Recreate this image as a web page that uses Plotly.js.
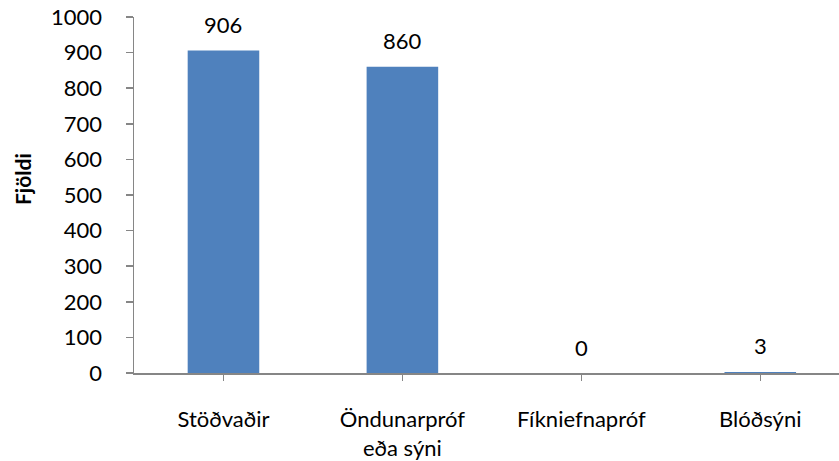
<!DOCTYPE html>
<html><head><meta charset="utf-8">
<script src="https://cdn.plot.ly/plotly-3.0.1.min.js"></script>
<style>html,body{margin:0;padding:0;overflow:hidden;background:#fff}</style>
</head><body><div id="chart" style="width:839px;height:461px"></div>
<script>
var categories = ["Stöðvaðir", "Öndunarpróf<br>eða sýni", "Fíkniefnapróf", "Blóðsýni"];
var values = [906, 860, 0, 3];
var yTicks = [0,100,200,300,400,500,600,700,800,900,1000];
var yTitle = "Fjöldi";

var font = "Lato, 'Open Sans', sans-serif";
var axisColor = "#868686";

var annotations = categories.map(function(c, i){
  return {x: i, y: values[i], xref: 'x', yref: 'y', text: String(values[i]),
    showarrow: false, yanchor: 'middle', yshift: 26,
    font: {family: font, size: 22, color: '#000'}};
});
annotations.push({
  xref: 'paper', yref: 'paper', x: (22 - 134) / 705, y: (373 - 179) / 356,
  xanchor: 'center', yanchor: 'middle', textangle: -90, showarrow: false,
  text: '<b>' + yTitle + '</b>', font: {family: font, size: 21, color: '#000'}
});

Plotly.newPlot('chart', [{
  type: 'bar', x: [0,1,2,3], y: values, width: 0.4,
  marker: {color: '#4F81BD', line: {width: 0}},
  hoverinfo: 'none'
}], {
  width: 839, height: 461,
  margin: {l: 134, r: 0, t: 17, b: 88},
  paper_bgcolor: '#fff', plot_bgcolor: '#fff',
  showlegend: false,
  xaxis: {
    range: [-0.5, 3.44], tickmode: 'array', tickvals: [0,1,2,3], ticktext: categories,
    showline: true, linecolor: axisColor, linewidth: 1.5,
    ticks: 'outside', tickson: 'boundaries', ticklen: 6, tickcolor: axisColor, tickwidth: 1.5,
    showgrid: false, zeroline: false, ticklabelstandoff: 20,
    tickfont: {family: font, size: 22, color: '#000'}
  },
  yaxis: {
    range: [0, 1000], tickmode: 'array', tickvals: yTicks,
    showline: true, linecolor: axisColor, linewidth: 1.5,
    ticks: 'outside', ticklen: 7, tickcolor: axisColor, tickwidth: 1.5,
    showgrid: false, zeroline: false, ticklabelstandoff: 19,
    tickfont: {family: font, size: 22, color: '#000'}
  },
  annotations: annotations
}, {displayModeBar: false, staticPlot: true});
</script></body></html>
